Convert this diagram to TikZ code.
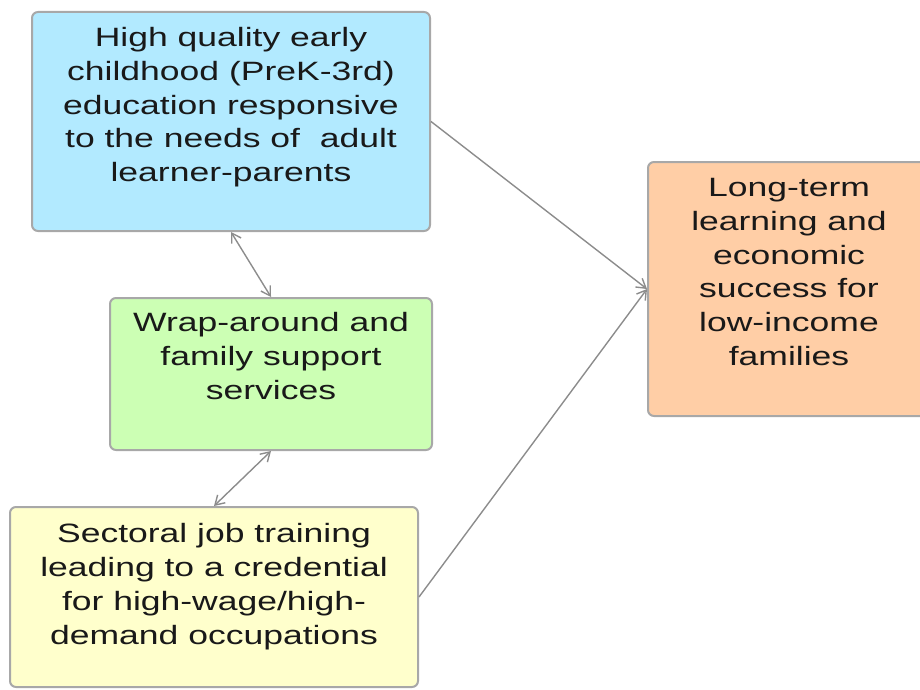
\documentclass[tikz,border=0pt]{standalone}
\usepackage{fontspec}
\setmainfont[FakeStretch=1.34]{Liberation Sans}
\usetikzlibrary{arrows.meta}
\definecolor{boxblue}{RGB}{178,234,255}
\definecolor{boxgreen}{RGB}{204,255,180}
\definecolor{boxyellow}{RGB}{255,255,204}
\definecolor{boxorange}{RGB}{255,206,166}
\definecolor{edgegray}{RGB}{168,168,168}
\definecolor{arrowgray}{RGB}{140,140,140}
\definecolor{txt}{RGB}{25,25,25}
\tikzset{
  box/.style={draw=edgegray, line width=2pt, rounded corners=6pt, inner sep=0pt},
  label/.style={inner sep=0pt, align=center, text=txt, font=\fontsize{26.5}{33.8}\selectfont},
  conn/.style={draw=arrowgray, line width=1.4pt},
  tip/.style={-{Straight Barb[length=9pt,width=11pt,line width=1.4pt]}},
  tips/.style={{Straight Barb[length=9pt,width=11pt,line width=1.4pt]}-{Straight Barb[length=9pt,width=11pt,line width=1.4pt]}}
}
\begin{document}
\begin{tikzpicture}[x=1pt,y=-1pt]
\useasboundingbox (0,0) rectangle (920,690);
\clip (0,0) rectangle (920,690);
\node[box, fill=boxblue, minimum width=398pt, minimum height=219pt] (b1) at (231,121.5) {};
\node[box, fill=boxgreen, minimum width=322pt, minimum height=152pt] (b2) at (271,374) {};
\node[box, fill=boxyellow, minimum width=408pt, minimum height=180pt] (b3) at (214,597) {};
\node[box, fill=boxorange, minimum width=282pt, minimum height=254pt] (b4) at (789,289) {};
\node[label] (t1) at (231,107.3) {High quality early\\childhood (PreK-3rd)\\education responsive\\to the needs of\ \ adult\\learner-parents};
\node[label] (t2) at (271,356) {Wrap-around and\\family support\\services};
\node[label] (t3) at (214,586.7) {Sectoral job training\\leading to a credential\\for high-wage/high-\\demand occupations};
\node[label] (t4) at (789,272) {Long-term\\learning and\\economic\\success for\\low-income\\families};
\draw[conn, tips] (b1.south) -- (b2.north);
\draw[conn, tips] (b2.south) -- (b3.north);
\draw[conn, tip] (b1.east) -- (b4.west);
\draw[conn, tip] (b3.east) -- (b4.west);
\end{tikzpicture}
\end{document}
